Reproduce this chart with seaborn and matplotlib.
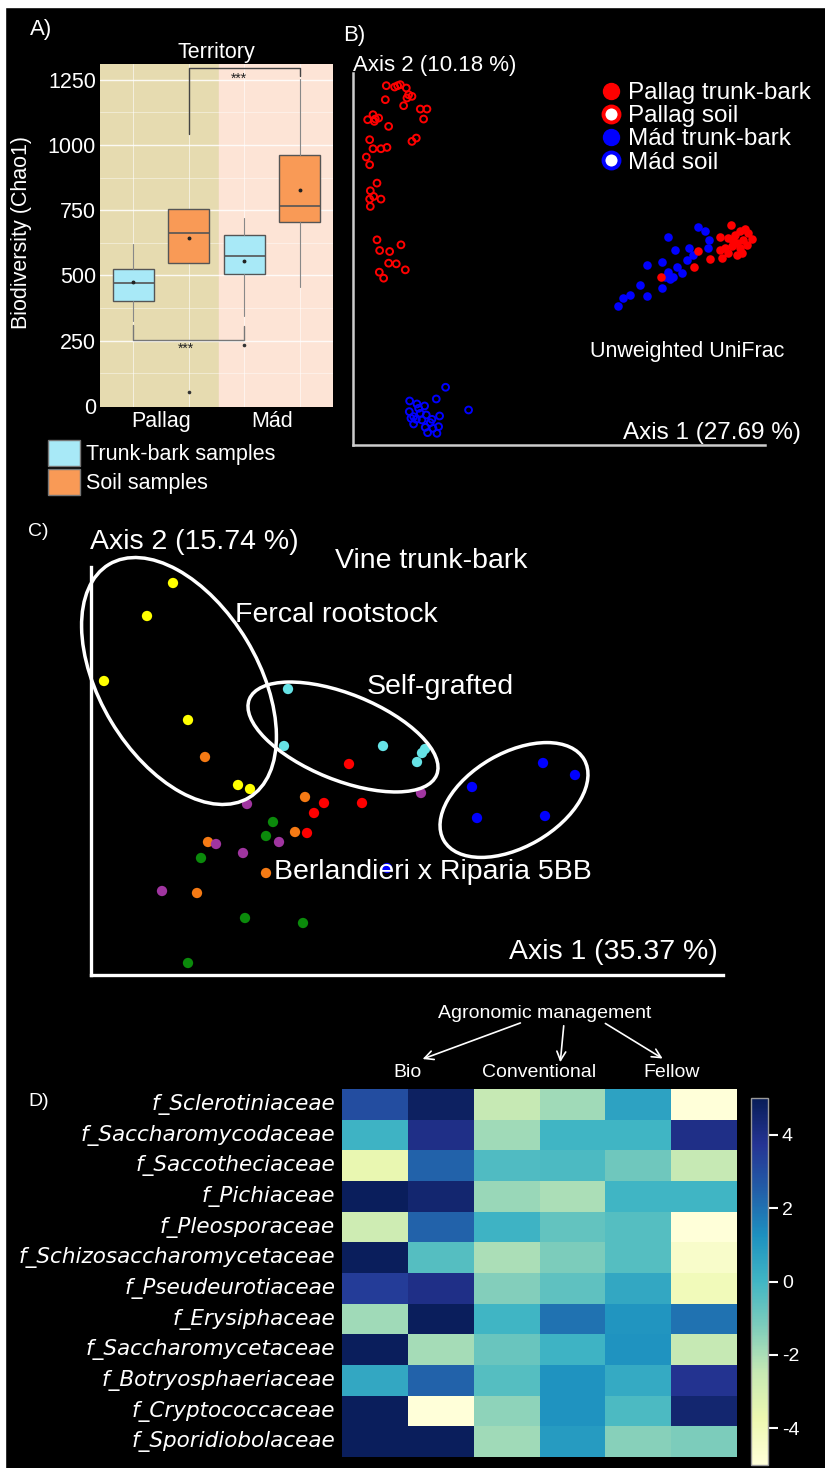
import numpy as np
import pandas as pd
import matplotlib
matplotlib.use("Agg")
import matplotlib.pyplot as plt
import seaborn as sns
from matplotlib.patches import Ellipse, Patch, Rectangle
from matplotlib.lines import Line2D

W, H = 825, 1468

### A) Chao1 biodiversity per territory (box summaries read off the plot)
territories = ["Pallag", "Mád"]
sample_types = ["Trunk-bark samples", "Soil samples"]
# order: Pallag trunk-bark, Pallag soil, Mád trunk-bark, Mád soil
box_q1 = [403, 549, 505, 705]
box_med = [470, 662, 576, 768]
box_q3 = [525, 755, 655, 961]
box_lo = [325, 549, 343, 455]
box_hi = [620, 755, 720, 1255]
box_mean = [473, 644, 557, 827]
box_out = [[], [54], [232], []]
sample_colors = ["#A8E9F7", "#F99A56"]

### B) Unweighted UniFrac PCoA scores (x1000)
b_groups = ["Pallag trunk-bark", "Pallag soil", "Mád trunk-bark", "Mád soil"]
pallag_soil = [(-462, 542), (-437, 538), (-428, 542), (-420, 545), (-402, 535), (-395, 515),
               (-385, 510), (-400, 505), (-410, 482), (-465, 500), (-360, 472), (-340, 472),
               (-350, 442), (-518, 440), (-502, 455), (-495, 442), (-485, 445), (-455, 420),
               (-512, 380), (-502, 353), (-478, 353), (-460, 357), (-385, 375), (-372, 385),
               (-522, 328), (-512, 305), (-490, 250), (-510, 227), (-500, 210), (-512, 202),
               (-478, 202), (-510, 180), (-490, 80), (-482, 48), (-452, 45), (-418, 65),
               (-455, 10), (-432, 8), (-405, -10), (-483, -17), (-470, -35), (-498, 435)]
mad_soil = [(-392, -403), (-370, -412), (-347, -418), (-393, -435), (-380, -450), (-360, -440),
            (-342, -445), (-388, -455), (-372, -458), (-355, -460), (-325, -458), (-302, -448),
            (-380, -472), (-345, -482), (-322, -485), (-305, -480), (-338, -498), (-310, -500),
            (-312, -397), (-284, -362), (-215, -430), (-365, -425), (-330, -468)]
pallag_bark = [(572, 125), (540, 88), (565, 85), (585, 95), (600, 105), (615, 112), (625, 100),
               (635, 82), (610, 80), (590, 70), (575, 60), (600, 55), (620, 65), (540, 50),
               (565, 40), (590, 35), (545, 25), (510, 22), (475, 45), (463, 0), (362, -30),
               (555, 55), (580, 75), (605, 40)]
mad_bark = [(473, 118), (495, 105), (508, 80), (505, 55), (385, 88), (405, 50), (448, 55),
            (460, 35), (440, 20), (365, 15), (320, 5), (410, 0), (385, -15), (400, -30),
            (425, -20), (375, -30), (390, -38), (300, -55), (365, -65), (320, -88), (270, -85),
            (250, -95), (235, -118)]

### C) Vine trunk-bark PCoA scores (x1000)
c_groups = {
    "Fercal rootstock": [(82, 392), (56, 359), (13, 294), (97, 255), (147, 190), (159, 186)],
    "Self-grafted": [(197, 286), (193, 229), (292, 229), (331, 222), (326, 213), (334, 226)],
    "5BB red": [(258, 211), (233, 172), (223, 162), (271, 172), (216, 142)],
    "5BB orange": [(114, 218), (214, 178), (204, 143), (117, 133), (106, 82), (175, 102)],
    "5BB green": [(182, 153), (175, 139), (110, 117), (154, 57), (212, 52), (97, 12)],
    "5BB purple": [(156, 171), (330, 182), (188, 133), (125, 131), (152, 122), (71, 84)],
    "Other": [(452, 212), (484, 200), (381, 188), (386, 157), (454, 159), (296, 107)],
}
c_palette = {"Fercal rootstock": "#FFFF00", "Self-grafted": "#66E3E6", "5BB red": "#FF0000",
             "5BB orange": "#F57A14", "5BB green": "#0B8A0B", "5BB purple": "#A035A0",
             "Other": "#0000FF"}
# group ellipses: centre x, centre y, width, height, angle (x1000)
c_ellipses = [(88, 294, 272, 158, -59), (252, 238, 202, 86, -22), (423, 175, 162, 94, 30)]

### D) Heatmap of fungal families by agronomic management
families = ["f_Sclerotiniaceae", "f_Saccharomycodaceae", "f_Saccotheciaceae", "f_Pichiaceae",
            "f_Pleosporaceae", "f_Schizosaccharomycetaceae", "f_Pseudeurotiaceae",
            "f_Erysiphaceae", "f_Saccharomycetaceae", "f_Botryosphaeriaceae",
            "f_Cryptococcaceae", "f_Sporidiobolaceae"]
samples = ["Bio 1", "Bio 2", "Conventional 1", "Conventional 2", "Fellow 1", "Fellow 2"]
management = ["Bio", "Conventional", "Fellow"]
heat_values = [
    [3.0, 4.8, -2.5, -1.8, 0.7, -5.0],
    [0.1, 4.0, -1.8, 0.0, 0.0, 4.0],
    [-3.6, 2.4, -0.3, -0.2, -0.9, -2.5],
    [4.9, 4.5, -1.7, -2.0, 0.0, 0.0],
    [-2.7, 2.4, 0.1, -0.7, -0.4, -5.0],
    [4.9, -0.4, -2.0, -1.2, -0.4, -4.5],
    [3.5, 4.0, -1.3, -0.6, 0.5, -4.0],
    [-1.8, 4.9, 0.0, 2.0, 1.1, 2.0],
    [4.9, -1.9, -0.8, 0.1, 1.2, -2.5],
    [0.5, 2.4, -0.4, 1.2, 0.4, 3.8],
    [4.9, -5.0, -1.5, 1.2, -0.2, 4.5],
    [4.9, 4.9, -1.8, 0.9, -1.4, -1.2],
]

sns.set_theme(style="white")
plt.rcParams["font.family"] = ["Liberation Sans", "DejaVu Sans"]
plt.rcParams["axes.unicode_minus"] = False

fig = plt.figure(figsize=(W / 100, H / 100), dpi=100, facecolor="black")


def px_axes(x0, y0, x1, y1):
    return fig.add_axes([x0 / W, 1 - y1 / H, (x1 - x0) / W, (y1 - y0) / H])


## ---- panel A
ax_a = px_axes(100, 64, 333, 407)
ax_a.set_xlim(-0.55, 1.55)
ax_a.set_ylim(-5, 1311)
ax_a.axvspan(-0.55, 0.52, color="#E6DBB0", zorder=0)
ax_a.axvspan(0.52, 1.55, color="#FDE4D6", zorder=0)
for v in range(125, 1311, 125):
    major = v % 250 == 0
    ax_a.axhline(v, color="white", lw=1.0 if major else 0.6, alpha=0.85 if major else 0.5, zorder=1)
pos = [i + d for i in range(len(territories)) for d in (-0.25, 0.25)]
for p in pos:
    ax_a.axvline(p, color="white", lw=0.7, alpha=0.6, zorder=1)

stats = [dict(q1=box_q1[i], med=box_med[i], q3=box_q3[i], whislo=box_lo[i], whishi=box_hi[i],
              mean=box_mean[i], fliers=box_out[i]) for i in range(4)]
bp = ax_a.bxp(stats, positions=pos, widths=0.37, patch_artist=True, showmeans=True,
              showcaps=False, manage_ticks=False, zorder=3,
              boxprops=dict(edgecolor="#555555", linewidth=1.0),
              medianprops=dict(color="#555555", linewidth=1.2),
              whiskerprops=dict(color="#888888", linewidth=0.8),
              meanprops=dict(marker="o", markersize=1.8, markerfacecolor="#222222",
                             markeredgecolor="#222222"),
              flierprops=dict(marker="o", markersize=1.6, markerfacecolor="#333333",
                              markeredgecolor="#333333"))
for i, patch in enumerate(bp["boxes"]):
    patch.set_facecolor(sample_colors[i % 2])

# significance brackets
bracket_x = [[-0.25, -0.25, 0.75, 0.75], [0.25, 0.25, 1.25, 1.25]]
bracket_y = [[311, 253, 253, 305], [1044, 1296, 1296, 1265]]
bracket_col = ["#777777", "#444444"]
star_pos = [(0.22, 218), (0.70, 1255)]
for bx, by, bc in zip(bracket_x, bracket_y, bracket_col):
    ax_a.plot(bx, by, color=bc, lw=1.0, zorder=4)
for sx, sy in star_pos:
    ax_a.text(sx, sy, "***", ha="center", va="center", fontsize=10, color="#222222", zorder=5)

ax_a.set_xticks(range(len(territories)))
ax_a.set_xticklabels(territories)
ax_a.set_yticks(range(0, 1251, 250))
ax_a.tick_params(colors="white", length=0, labelsize=15.5, pad=3)
for s in ax_a.spines.values():
    s.set_visible(False)
ax_a.set_title("Territory", color="white", fontsize=15.5, pad=4)
ax_a.set_ylabel("Biodiversity (Chao1)", color="white", fontsize=15.5)
ax_a.yaxis.set_label_coords(-0.29, 0.51)

fig.legend(handles=[Patch(facecolor=c, edgecolor="#777777") for c in sample_colors],
           labels=sample_types, loc="upper left", bbox_to_anchor=(48 / W, 1 - 440 / H),
           frameon=False, fontsize=15.5, labelcolor="white", handlelength=1.5,
           handleheight=1.45, handletextpad=0.25, labelspacing=0.18, borderpad=0,
           borderaxespad=0)

## ---- panel B
rows = []
for g, pts in zip(b_groups, [pallag_bark, pallag_soil, mad_bark, mad_soil]):
    for x, y in pts:
        rows.append((g, x / 1000, y / 1000))
df_b = pd.DataFrame(rows, columns=["group", "axis1", "axis2"])
b_colors = {"Pallag trunk-bark": "#FF0000", "Pallag soil": "#FF0000",
            "Mád trunk-bark": "#0000FF", "Mád soil": "#0000FF"}

ax_b = px_axes(353, 73, 765, 445)
ax_b.set_facecolor("none")
for g in ["Pallag soil", "Mád soil"]:
    sns.scatterplot(data=df_b[df_b["group"] == g], x="axis1", y="axis2", ax=ax_b, s=24,
                    facecolor="none", edgecolor=b_colors[g], linewidth=1.4, legend=False)
for g in ["Mád trunk-bark", "Pallag trunk-bark"]:
    sns.scatterplot(data=df_b[df_b["group"] == g], x="axis1", y="axis2", ax=ax_b, s=38,
                    color=b_colors[g], linewidth=0, legend=False)
ax_b.set_xlim(-0.562, 0.675)
ax_b.set_ylim(-0.535, 0.58)
ax_b.set_xticks([])
ax_b.set_yticks([])
ax_b.set_xlabel("")
ax_b.set_ylabel("")
for side in ["top", "right"]:
    ax_b.spines[side].set_visible(False)
for side in ["left", "bottom"]:
    ax_b.spines[side].set_color("#CCCCCC")
    ax_b.spines[side].set_linewidth(1.8)

b_handles = []
for g in b_groups:
    soil = "soil" in g
    b_handles.append(Line2D([], [], ls="", marker="o", markersize=11.5,
                            markerfacecolor="white" if soil else b_colors[g],
                            markeredgecolor=b_colors[g], markeredgewidth=2.8 if soil else 1))
fig.legend(handles=b_handles, labels=b_groups, loc="upper left",
           bbox_to_anchor=(601 / W, 1 - 82 / H), frameon=False, fontsize=17.5,
           labelcolor="white", handlelength=0.8, handletextpad=0.3, labelspacing=0.05,
           borderpad=0, borderaxespad=0)

## ---- panel C
rows = []
for g, pts in c_groups.items():
    for x, y in pts:
        rows.append((g, x / 1000, y / 1000))
df_c = pd.DataFrame(rows, columns=["group", "axis1", "axis2"])

ax_c = px_axes(91, 567, 723, 975)
ax_c.set_facecolor("none")
sns.scatterplot(data=df_c, x="axis1", y="axis2", hue="group", palette=c_palette, ax=ax_c,
                s=55, linewidth=0, legend=False)
for cx, cy, ew, eh, ang in c_ellipses:
    ax_c.add_patch(Ellipse((cx / 1000, cy / 1000), ew / 1000, eh / 1000, angle=ang,
                           fill=False, edgecolor="white", lw=2.5, clip_on=False))
ax_c.set_xlim(0, 0.632)
ax_c.set_ylim(0, 0.408)
ax_c.set_xticks([])
ax_c.set_yticks([])
ax_c.set_xlabel("")
ax_c.set_ylabel("")
for side in ["top", "right"]:
    ax_c.spines[side].set_visible(False)
for side in ["left", "bottom"]:
    ax_c.spines[side].set_color("white")
    ax_c.spines[side].set_linewidth(2.4)

## ---- panel D
df_d = pd.DataFrame(heat_values, index=families, columns=samples)
ax_d = px_axes(342, 1089, 737, 1457)
cax = px_axes(751, 1098, 768, 1465)
sns.heatmap(df_d, cmap="YlGnBu", vmin=-5, vmax=5, ax=ax_d, cbar_ax=cax, yticklabels=True)
ax_d.set_yticklabels(families, rotation=0, fontstyle="italic", family="DejaVu Sans",
                     fontsize=15.5, color="white")
ax_d.tick_params(axis="y", length=0, pad=5)
ax_d.set_xticks([1, 3, 5])
ax_d.set_xticklabels(management, rotation=0, fontsize=14, color="white")
ax_d.xaxis.tick_top()
ax_d.tick_params(axis="x", length=0, pad=6)
ax_d.set_xlabel("")
ax_d.set_ylabel("")
cbar = ax_d.collections[0].colorbar
cbar.set_ticks([-4, -2, 0, 2, 4])
cbar.ax.tick_params(colors="white", length=7, width=1.5, labelsize=14, pad=3)
cbar.outline.set_edgecolor("#999999")
cbar.outline.set_linewidth(1)

## ---- overlay for labels / arrows in pixel space
ov = fig.add_axes([0, 0, 1, 1], zorder=10)
ov.set_xlim(0, W)
ov.set_ylim(H, 0)
ov.axis("off")
ov.patch.set_alpha(0)
ov.add_patch(Rectangle((0, 0), W, 7, color="white"))
ov.add_patch(Rectangle((0, 0), 5, H, color="white"))

txt = dict(color="white", va="center", ha="left")
ov.text(30, 29, "A)", fontsize=16, **txt)
ov.text(343, 35, "B)", fontsize=16, **txt)
ov.text(28, 532, "C)", fontsize=14, **txt)
ov.text(28, 1101, "D)", fontsize=14, **txt)

ov.text(353, 66, "Axis 2 (10.18 %)", fontsize=16, **txt)
ov.text(623, 433, "Axis 1 (27.69 %)", fontsize=17.5, **txt)
ov.text(590, 352, "Unweighted UniFrac", fontsize=15.5, **txt)

ov.text(90, 542, "Axis 2 (15.74 %)", fontsize=20.5, **txt)
ov.text(335, 561, "Vine trunk-bark", fontsize=20.5, **txt)
ov.text(235, 615, "Fercal rootstock", fontsize=20.5, **txt)
ov.text(367, 687, "Self-grafted", fontsize=20.5, **txt)
ov.text(274, 872, "Berlandieri x Riparia 5BB", fontsize=20.5, **txt)
ov.text(509, 952, "Axis 1 (35.37 %)", fontsize=20.5, **txt)

ov.text(545, 1013, "Agronomic management", fontsize=14, color="white", ha="center", va="center")
arrow_kw = dict(arrowstyle="->", color="white", lw=1.2, mutation_scale=16)
ov.annotate("", xy=(420, 1060), xytext=(523, 1022), arrowprops=arrow_kw)
ov.annotate("", xy=(560, 1065), xytext=(564, 1023), arrowprops=arrow_kw)
ov.annotate("", xy=(665, 1060), xytext=(603, 1022), arrowprops=arrow_kw)

fig.savefig("out.png", dpi=100, facecolor="black")
